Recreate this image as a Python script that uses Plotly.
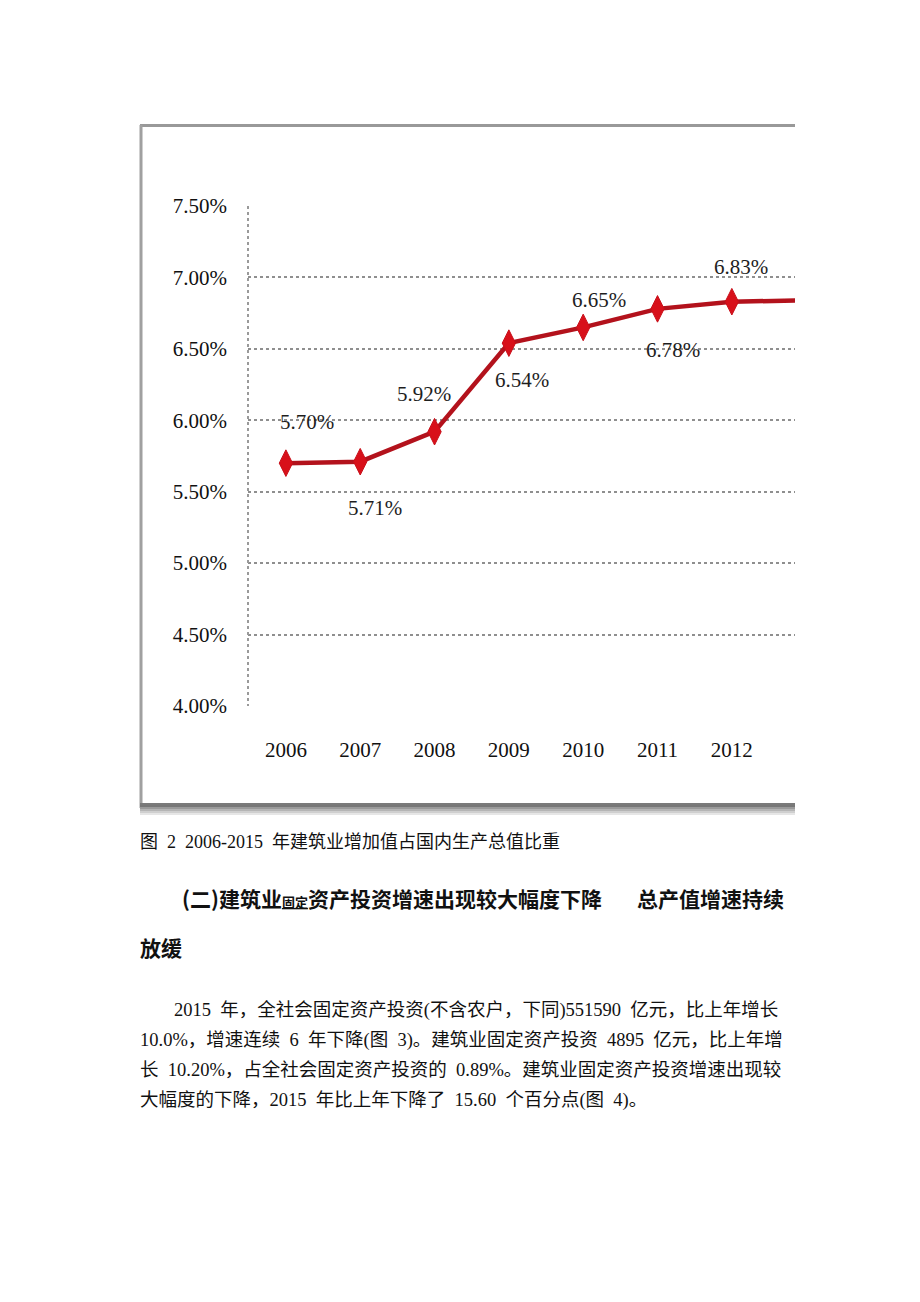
import plotly.graph_objects as go

years = [2006, 2007, 2008, 2009, 2010, 2011, 2012, 2013]
share = [5.70, 5.71, 5.92, 6.54, 6.65, 6.78, 6.83, 6.84]
labels = ["5.70%", "5.71%", "5.92%", "6.54%", "6.65%", "6.78%", "6.83%", ""]
# label offsets (pixels) relative to each point
label_dx = [21, 15, -11, 13, 16, 15, 9, 0]
label_dy = [41, -46, 38, -37, 27, -41, 35, 0]
y_ticks = [4.0, 4.5, 5.0, 5.5, 6.0, 6.5, 7.0, 7.5]
y_ticktext = ["4.00%", "4.50%", "5.00%", "5.50%", "6.00%", "6.50%", "7.00%", "7.50%"]

W, H = 920, 1302
def px(x): return x / W
def py(y): return 1 - y / H

serif = "Liberation Serif"
cjk = "Liberation Serif, Noto Sans CJK SC"
cjk_bold = "Noto Sans CJK SC"

fig = go.Figure()
fig.add_trace(go.Scatter(
    x=years, y=share, mode="lines",
    line=dict(color="#B3121C", width=4.5),
    cliponaxis=True, showlegend=False, hoverinfo="skip",
))
fig.add_trace(go.Scatter(
    x=years, y=share, mode="markers",
    marker=dict(symbol="diamond-tall", size=19, color="#D8101A",
                line=dict(color="#C8101A", width=1)),
    cliponaxis=True, showlegend=False,
))
fig.add_trace(go.Scatter(
    x=years, y=share, mode="markers",
    marker=dict(symbol="circle", size=11, color="#D8101A"),
    cliponaxis=True, showlegend=False, hoverinfo="skip",
))

for x, y, t, dx, dy in zip(years, share, labels, label_dx, label_dy):
    if not t:
        continue
    fig.add_annotation(x=x, y=y, xref="x", yref="y", text=t, showarrow=False,
                       xshift=dx, yshift=dy,
                       font=dict(family=serif, size=21, color="#1e1e1e"))

fig.update_layout(
    width=W, height=H, margin=dict(l=0, r=0, t=0, b=0, pad=0, autoexpand=False),
    paper_bgcolor="white", plot_bgcolor="white",
    xaxis=dict(domain=[px(248), px(795)], range=[2005.49, 2012.85],
               tickvals=years, ticktext=[str(y) for y in years],
               showgrid=False, zeroline=False, showline=False, automargin=False,
               tickfont=dict(family=serif, size=21, color="#111111"),
               ticks="", ticklabelstandoff=29),
    yaxis=dict(domain=[py(706), py(206)], range=[4.0, 7.5],
               tickvals=y_ticks, ticktext=y_ticktext,
               showgrid=True, gridcolor="#8f8f8f", griddash="dot", gridwidth=2,
               zeroline=False, showline=False, automargin=False,
               tickfont=dict(family=serif, size=21, color="#111111"),
               ticks="", ticklabelstandoff=20),
)

# chart frame (screenshot-like border)
fig.add_shape(type="line", xref="paper", yref="paper",
              x0=px(140), x1=px(795), y0=py(125.5), y1=py(125.5),
              line=dict(color="#999999", width=3))
fig.add_shape(type="line", xref="paper", yref="paper",
              x0=px(141), x1=px(141), y0=py(125), y1=py(808),
              line=dict(color="#a0a0a0", width=3))
shadow = [(804, "#7a7a7a"), (806, "#777777"), (808, "#9a9a9a"), (810, "#b5b5b5"),
          (812, "#cfcfcf"), (814, "#e6e6e6")]
for yy, c in shadow:
    fig.add_shape(type="line", xref="paper", yref="paper",
                  x0=px(140), x1=px(795), y0=py(yy), y1=py(yy),
                  line=dict(color=c, width=2.2))
# dotted vertical axis line
fig.add_shape(type="line", xref="paper", yref="paper",
              x0=px(248), x1=px(248), y0=py(206), y1=py(706),
              line=dict(color="#9a9a9a", width=2, dash="dot"))

def txt(x, y, s, size=18.5, bold=False, family=cjk, wide_space=True):
    if wide_space:
        s = s.replace(" ", "\u2002")
    fig.add_annotation(xref="paper", yref="paper", x=px(x), y=py(y),
                       text=(f"<b>{s}</b>" if bold else s), showarrow=False,
                       xanchor="left", yanchor="middle",
                       font=dict(family=family, size=size, color="#111111"))

txt(138, 842, "图 2 2006-2015 年建筑业增加值占国内生产总值比重", size=18)
txt(180, 898, "(二)建筑业<span style='font-size:13px'><u>固定</u></span>资产投资增速出现较大幅度下降",
    size=21, bold=True, family=cjk_bold, wide_space=False)
txt(635, 898, "总产值增速持续", size=21, bold=True, family=cjk_bold, wide_space=False)
txt(138, 947, "放缓", size=21, bold=True, family=cjk_bold, wide_space=False)
txt(172, 1010, "2015 年，全社会固定资产投资(不含农户，下同)551590 亿元，比上年增长")
txt(138, 1040, "10.0%，增速连续 6 年下降(图 3)。建筑业固定资产投资 4895 亿元，比上年增")
txt(138, 1070, "长 10.20%，占全社会固定资产投资的 0.89%。建筑业固定资产投资增速出现较")
txt(138, 1100, "大幅度的下降，2015 年比上年下降了 15.60 个百分点(图 4)。")

css_fix = ("var d=document.documentElement,b=document.body;"
           "d.style.margin='0';b.style.margin='0';d.style.padding='0';b.style.padding='0';"
           "d.style.height='1302px';b.style.height='1302px';"
           "d.style.overflow='hidden';b.style.overflow='hidden';")
fig.write_html("out.html", config={"displayModeBar": False}, post_script=css_fix)
